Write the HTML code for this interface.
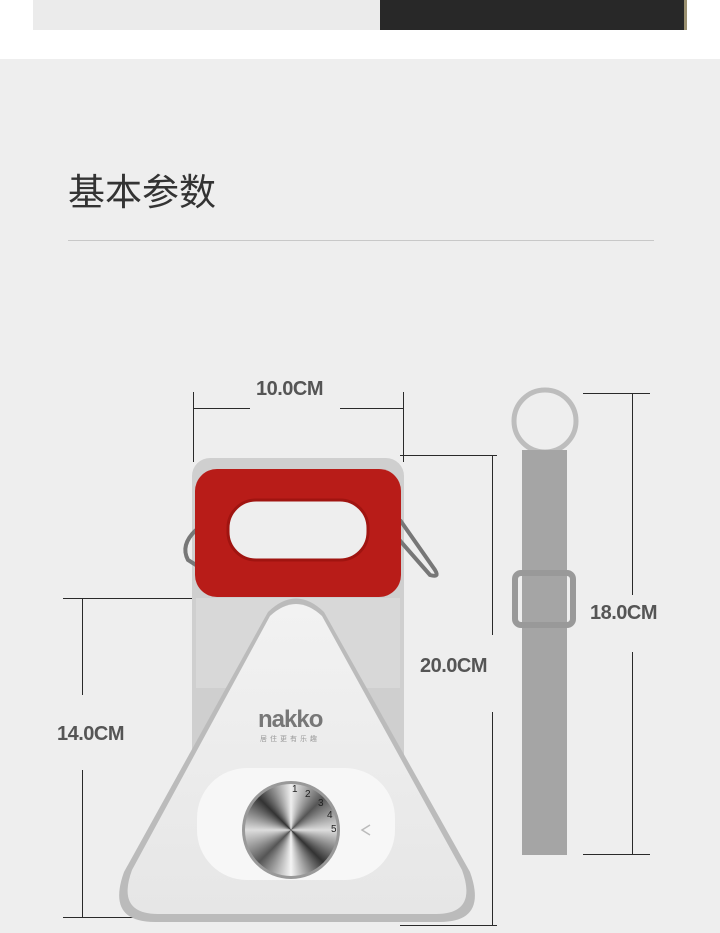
<!DOCTYPE html>
<html><head><meta charset="utf-8"><style>
body{margin:0;width:720px;height:933px;overflow:hidden;background:#eee;position:relative;font-family:"Liberation Sans","Noto Sans CJK SC",sans-serif}
.a{position:absolute}
.l{position:absolute;background:#2a2a2a}
.t{position:absolute;font-size:20px;color:#555;font-weight:bold;letter-spacing:-0.5px}
</style></head><body>
<div class="a" style="left:0;top:0;width:720px;height:59px;background:#fff"></div>
<div class="a" style="left:33px;top:0;width:347px;height:30px;background:#ebebeb"></div>
<div class="a" style="left:380px;top:0;width:306px;height:30px;background:#282828"></div>
<div class="a" style="left:684px;top:0;width:3px;height:30px;background:#9a9070"></div>
<div class="a" style="left:68px;top:162px;font-size:37px;color:#333">基本参数</div>
<div class="a" style="left:68px;top:240px;width:586px;height:1px;background:#c8c8c8"></div>

<div class="l" style="left:193px;top:392px;width:1px;height:70px"></div>
<div class="l" style="left:403px;top:392px;width:1px;height:70px"></div>
<div class="l" style="left:193px;top:408px;width:57px;height:1px"></div>
<div class="l" style="left:340px;top:408px;width:63px;height:1px"></div>
<div class="t" style="left:256px;top:378px">10.0CM</div>
<div class="l" style="left:400px;top:455px;width:97px;height:1px"></div>
<div class="l" style="left:400px;top:925px;width:97px;height:1px"></div>
<div class="l" style="left:492px;top:455px;width:1px;height:180px"></div>
<div class="l" style="left:492px;top:712px;width:1px;height:213px"></div>
<div class="t" style="left:420px;top:655px">20.0CM</div>
<div class="l" style="left:63px;top:598px;width:167px;height:1px"></div>
<div class="l" style="left:63px;top:917px;width:167px;height:1px"></div>
<div class="l" style="left:82px;top:598px;width:1px;height:97px"></div>
<div class="l" style="left:82px;top:770px;width:1px;height:147px"></div>
<div class="t" style="left:57px;top:723px">14.0CM</div>
<div class="l" style="left:583px;top:393px;width:67px;height:1px"></div>
<div class="l" style="left:583px;top:854px;width:67px;height:1px"></div>
<div class="l" style="left:632px;top:393px;width:1px;height:202px"></div>
<div class="l" style="left:632px;top:652px;width:1px;height:202px"></div>
<div class="t" style="left:590px;top:602px">18.0CM</div>

<svg class="a" style="left:0;top:0" width="720" height="933">
<defs>
<linearGradient id="tr" x1="0" y1="0" x2="0" y2="1"><stop offset="0" stop-color="#f2f2f2"/><stop offset="1" stop-color="#e6e6e6"/></linearGradient>
</defs>
<rect x="192" y="458" width="212" height="464" rx="18" fill="#cfcfcf"/>
<rect x="196" y="598" width="204" height="90" fill="#d8d8d8"/>
<path d="M400 520 L435 570 Q440 578 430 575 L395 535" fill="none" stroke="#777" stroke-width="4"/>
<path d="M196 530 Q180 545 188 560 L196 565" fill="none" stroke="#777" stroke-width="4"/>
<rect x="195" y="469" width="206" height="128" rx="22" fill="#b81c18"/>
<rect x="228" y="500" width="140" height="60" rx="28" fill="#eee" stroke="#a01410" stroke-width="3"/>
<path d="M268 612 Q296 585 324 612 L470 872 Q488 922 440 922 L155 922 Q106 922 124 872 Z" fill="#bbb"/>
<path d="M270 616 Q296 592 322 616 L462 870 Q478 914 436 914 L158 914 Q116 914 132 870 Z" fill="url(#tr)"/>
<rect x="197" y="768" width="198" height="112" rx="50" fill="#f7f7f7"/>
<circle cx="291" cy="830" r="49" fill="#999"/>
<path d="M370 825 L362 830 L370 835" fill="none" stroke="#bbb" stroke-width="1.5"/>
<text x="258" y="727" font-size="24" fill="#777" font-family="Liberation Sans" font-weight="bold" letter-spacing="-1">nakko</text>
<text x="260" y="741" font-size="7" fill="#999" font-family="Noto Sans CJK SC" letter-spacing="3">居住更有乐趣</text>
<circle cx="545" cy="421" r="31" fill="none" stroke="#bdbdbd" stroke-width="5"/>
<rect x="522" y="450" width="45" height="405" fill="#a5a5a5"/>
<rect x="515" y="573" width="58" height="52" rx="6" fill="none" stroke="#999" stroke-width="6"/>
</svg>
<div class="a" style="left:245px;top:784px;width:92px;height:92px;border-radius:50%;background:conic-gradient(#eee,#555,#ddd,#333,#f4f4f4,#555,#ddd,#333,#eee)"></div>
<svg class="a" style="left:0;top:0" width="720" height="933">
<text x="292" y="792" font-size="10" fill="#222" font-family="Liberation Sans">1</text>
<text x="305" y="797" font-size="10" fill="#222" font-family="Liberation Sans">2</text>
<text x="318" y="806" font-size="10" fill="#222" font-family="Liberation Sans">3</text>
<text x="327" y="818" font-size="10" fill="#222" font-family="Liberation Sans">4</text>
<text x="331" y="832" font-size="10" fill="#222" font-family="Liberation Sans">5</text>
</svg>
</body></html>
